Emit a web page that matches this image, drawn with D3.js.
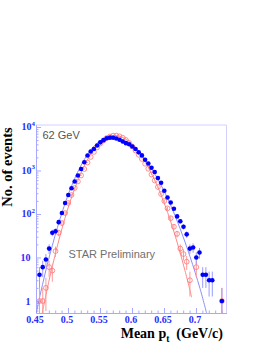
<!DOCTYPE html>
<html>
<head>
<meta charset="utf-8">
<script src="https://cdn.jsdelivr.net/npm/d3@7"></script>
<style>
  html, body { margin: 0; padding: 0; background: #fff; }
  svg { display: block; }
</style>
</head>
<body>
<div id="chart"></div>
<script>
// Mean pt bin centres (GeV/c)
const binCenters = [
  0.4555, 0.4605, 0.4655, 0.4705, 0.4755, 0.4805, 0.4855, 0.4905, 0.4955, 0.5005,
  0.5055, 0.5105, 0.5155, 0.5205, 0.5255, 0.5305, 0.5355, 0.5405, 0.5455, 0.5505,
  0.5555, 0.5605, 0.5655, 0.5705, 0.5755, 0.5805, 0.5855, 0.5905, 0.5955, 0.6005,
  0.6055, 0.6105, 0.6155, 0.6205, 0.6255, 0.6305, 0.6355, 0.6405, 0.6455, 0.6505,
  0.6555, 0.6605, 0.6655, 0.6705, 0.6755, 0.6805, 0.6855, 0.6905, 0.6955, 0.7005,
  0.7055, 0.7105, 0.7155, 0.7205, 0.7255, 0.7305, 0.7355, 0.7405
];

// data (blue, filled)
const blueCounts = [
  4, 6, 9, 16, 37, 40, 65, 105, 179, 273,
  390, 559, 768, 1082, 1544, 2213, 2735, 3120, 3757, 4427,
  4975, 5500, 5677, 5645, 5445, 5080, 4644, 4245, 4000, 3563,
  3120, 2608, 2224, 1771, 1449, 1159, 924, 672, 524, 341,
  239, 184, 132, 88, 68, 51, 34, 16, 17, 10,
  13, 4, 4, 3, 3, 0, 0, 1
];

// reference (red, open)
const redCounts = [
  1, 1, 2, 6, 5, 14, 37, 62, 105, 179,
  273, 396, 559, 768, 1082, 1527, 2044, 2663, 3379, 4176,
  4897, 5588, 6050, 6310, 6340, 6110, 5650, 5025, 4287, 3563,
  2884, 2296, 1837, 1426, 1094, 809, 589, 418, 288, 199,
  135, 80, 51, 35, 16, 12, 8, 3, 0, 6,
  0, 0, 0, 0, 0, 0, 0, 1
];

// fit curves [pt, events]
const blueFit = [
  [0.45, 0.5], [0.4563, 1.34], [0.4641, 4.2], [0.4719, 12], [0.4875, 77],
  [0.5031, 356], [0.5188, 1178], [0.5344, 2807], [0.55, 4766], [0.5672, 5832],
  [0.5813, 5383], [0.5969, 4045], [0.6125, 2485], [0.6281, 1256], [0.6438, 513],
  [0.6594, 173], [0.675, 47], [0.6906, 10.6], [0.7063, 1.94], [0.717, 0.5]
];
const redFit = [
  [0.4594, 0.5], [0.4641, 1.09], [0.4719, 3.7], [0.4875, 31.5], [0.5031, 188],
  [0.5188, 776], [0.5344, 2235], [0.55, 4475], [0.5719, 6380], [0.5891, 5383],
  [0.6047, 3414], [0.6203, 1627], [0.6359, 586], [0.6516, 159], [0.6672, 32.6],
  [0.6828, 5.0], [0.6933, 1.22]
];

const xTickValues = [0.45, 0.5, 0.55, 0.6, 0.65, 0.7];
const xTickLabels = ['0.45', '0.5', '0.55', '0.6', '0.65', '0.7'];
const yTickValues = [1, 10, 100, 1000, 10000];
const yTickExps = [null, null, '2', '3', '4'];

const width = 272, height = 352;
const frame = { left: 36, right: 226.5, top: 125, bottom: 313 };

const axisColor = '#a8a8ff';
const labelColor = '#2a2aff';

const svg = d3.select('#chart').append('svg')
  .attr('width', width)
  .attr('height', height);

const x = d3.scaleLinear().domain([0.45, 0.7477]).range([frame.left, frame.right]);
const y = d3.scaleLog().domain([0.53, 11100]).range([frame.bottom, frame.top]);

svg.append('clipPath').attr('id', 'plotClip')
  .append('rect')
  .attr('x', frame.left).attr('y', frame.top)
  .attr('width', frame.right - frame.left)
  .attr('height', frame.bottom - frame.top);

// frame (top and right)
svg.append('path')
  .attr('d', `M${frame.left},${frame.top}H${frame.right}V${frame.bottom}`)
  .attr('fill', 'none')
  .attr('stroke', '#d4d0ff')
  .attr('stroke-width', 1);

// axes with inward ticks
function styleAxis(g) {
  g.select('.domain').attr('stroke', axisColor);
  g.selectAll('.tick line').attr('stroke', axisColor);
  g.selectAll('.tick text').remove();
}

const yMinor = y.ticks().filter(v => !yTickValues.includes(v));
svg.append('g')
  .attr('transform', `translate(${frame.left},0)`)
  .call(d3.axisLeft(y).tickValues(yMinor).tickSize(-2.5).tickSizeOuter(0))
  .call(styleAxis);
svg.append('g')
  .attr('transform', `translate(${frame.left},0)`)
  .call(d3.axisLeft(y).tickValues(yTickValues).tickSize(-5).tickSizeOuter(0))
  .call(styleAxis);

const xMinor = x.ticks(30).filter(v => !xTickValues.some(t => Math.abs(t - v) < 1e-6));
svg.append('g')
  .attr('transform', `translate(0,${frame.bottom})`)
  .call(d3.axisBottom(x).tickValues(xMinor).tickSize(-2.5).tickSizeOuter(0))
  .call(styleAxis);
svg.append('g')
  .attr('transform', `translate(0,${frame.bottom})`)
  .call(d3.axisBottom(x).tickValues(xTickValues).tickSize(-5).tickSizeOuter(0))
  .call(styleAxis);

// y tick labels
const yLab = svg.append('g')
  .attr('font-family', '"Liberation Serif", "Times New Roman", serif')
  .attr('font-weight', 'bold')
  .attr('fill', labelColor);
yTickValues.forEach((v, i) => {
  const exp = yTickExps[i];
  const t = yLab.append('text')
    .attr('x', exp ? 35 : 30.5)
    .attr('y', y(v) + 3.5)
    .attr('text-anchor', 'end')
    .attr('font-size', 10);
  if (exp) {
    t.append('tspan').text('10');
    t.append('tspan').attr('dy', -4.5).attr('font-size', 7).text(exp);
  } else {
    t.text(v);
  }
});

// x tick labels
svg.append('g')
  .attr('font-family', '"Liberation Serif", "Times New Roman", serif')
  .attr('font-weight', 'bold')
  .attr('font-size', 10)
  .attr('fill', labelColor)
  .selectAll('text')
  .data(xTickValues)
  .join('text')
  .attr('x', d => x(d) - 1)
  .attr('y', 322.5)
  .attr('text-anchor', 'middle')
  .text((d, i) => xTickLabels[i]);

// plot content
const plot = svg.append('g').attr('clip-path', 'url(#plotClip)');

const line = d3.line()
  .x(d => x(d[0]))
  .y(d => y(d[1]))
  .curve(d3.curveCatmullRom);

plot.append('path').datum(blueFit)
  .attr('d', line).attr('fill', 'none')
  .attr('stroke', '#8c8cff').attr('stroke-width', 1);
plot.append('path').datum(redFit)
  .attr('d', line).attr('fill', 'none')
  .attr('stroke', '#ff8a8a').attr('stroke-width', 1);

function points(counts) {
  return counts.map((c, i) => ({ x: binCenters[i], n: c })).filter(d => d.n > 0);
}
const redPts = points(redCounts);
const bluePts = points(blueCounts);

function errorBars(pts, color) {
  plot.append('g').selectAll('line')
    .data(pts)
    .join('line')
    .attr('x1', d => x(d.x)).attr('x2', d => x(d.x))
    .attr('y1', d => y(d.n + Math.sqrt(d.n)))
    .attr('y2', d => {
      const lo = d.n - Math.sqrt(d.n);
      return lo > 0.53 ? y(lo) : frame.bottom + 2;
    })
    .attr('stroke', color)
    .attr('stroke-width', 1);
}
errorBars(redPts, '#ff9a9a');
errorBars(bluePts, '#9a9aff');

plot.append('g').selectAll('circle')
  .data(redPts)
  .join('circle')
  .attr('cx', d => x(d.x)).attr('cy', d => y(d.n))
  .attr('r', 2.4)
  .attr('fill', 'none')
  .attr('stroke', '#ff7474')
  .attr('stroke-width', 0.8);

plot.append('g').selectAll('circle')
  .data(bluePts)
  .join('circle')
  .attr('cx', d => x(d.x)).attr('cy', d => y(d.n))
  .attr('r', 2.3)
  .attr('fill', '#0000ff');

// annotations
svg.append('text')
  .attr('x', 42.5).attr('y', 138.5)
  .attr('font-family', '"Liberation Sans", Arial, sans-serif')
  .attr('font-size', 11)
  .attr('fill', '#555')
  .text('62 GeV');

svg.append('text')
  .attr('x', 68.5).attr('y', 258)
  .attr('font-family', '"Liberation Sans", Arial, sans-serif')
  .attr('font-size', 11)
  .attr('fill', '#707070')
  .text('STAR Preliminary');

// axis titles
svg.append('text')
  .attr('transform', 'translate(12,167) rotate(-90)')
  .attr('text-anchor', 'middle')
  .attr('font-family', '"Liberation Serif", "Times New Roman", serif')
  .attr('font-weight', 'bold')
  .attr('font-size', 14.5)
  .attr('fill', '#000')
  .text('No. of events');

const xt = svg.append('text')
  .attr('x', 223).attr('y', 337.5)
  .attr('text-anchor', 'end')
  .attr('font-family', '"Liberation Serif", "Times New Roman", serif')
  .attr('font-weight', 'bold')
  .attr('font-size', 14)
  .attr('fill', '#000');
xt.append('tspan').text('Mean p');
xt.append('tspan').attr('dy', 4).attr('font-size', 9.5).text('t');
xt.append('tspan').attr('dy', -4).text('\u00a0 (GeV/c)');
</script>
</body>
</html>
